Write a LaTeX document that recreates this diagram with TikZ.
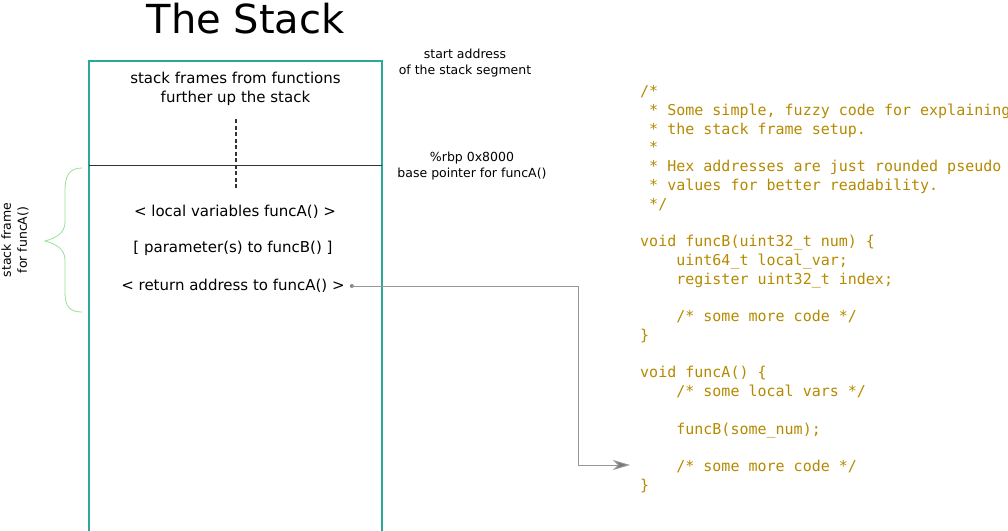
\documentclass[tikz,border=0pt]{standalone}
\usepackage{fontspec}
\setmainfont{DejaVu Sans}
\setmonofont{DejaVu Sans Mono}
\usetikzlibrary{arrows.meta,positioning}
\definecolor{stackcyan}{RGB}{42,168,156}
\definecolor{codeyellow}{RGB}{181,137,0}
\definecolor{bracegreen}{RGB}{150,225,150}
\definecolor{linkgray}{RGB}{150,150,150}
\tikzset{
    label/.style={font=\fontsize{15}{19}\selectfont, align=center, inner sep=0pt},
    note/.style={font=\fontsize{12.5}{16}\selectfont, align=center, inner sep=0pt},
    codeline/.style={font=\ttfamily\fontsize{15}{19}\selectfont, text=codeyellow, anchor=base west, inner sep=0pt},
    frame/.style={draw=stackcyan, line width=1.4pt},
    link/.style={draw=linkgray, line width=1pt, -{Stealth[length=17pt, width=10pt, inset=5pt, fill=linkgray!80!black]}}
}

\begin{document}
\begin{tikzpicture}[x=1pt, y=-1pt]
    \useasboundingbox (0,0) rectangle (1008,530);

    % the stack
    \node[anchor=base, font=\fontsize{40}{44}\selectfont, inner sep=0pt] (title) at (245.5,33) {The Stack};
    \draw[frame] (89,532) -- (89,61) -- (382,61) -- (382,532);
    \draw[black!80, line width=0.9pt] (89,165) -- (382,165);
    \draw[black!80, line width=1.4pt, dash pattern=on 4pt off 2.5pt] (236,119) -- (236,188);

    % Nodes
    \node[label] (upper) at (235.5,89) {stack frames from functions\\further up the stack};
    \node[label] (locals) at (235,212) {< local variables funcA() >};
    \node[label] (params) at (233,248) {[ parameter(s) to funcB() ]};
    \node[label] (retaddr) at (233,286) {< return address to funcA() >};
    \node[note] (startlbl) at (465,63) {start address\\of the stack segment};
    \node[note] (rbplbl) at (472,166) {\%rbp 0x8000\\base pointer for funcA()};
    \node[note, rotate=90] (framelbl) at (15,240) {stack frame\\for funcA()};

    % brace
    \draw[bracegreen, line width=0.8pt] (82,168) .. controls (70,168) and (65,175) .. (65,190)
        -- (65,222) .. controls (65,233) and (56,238) .. (45,241)
        .. controls (56,244) and (65,249) .. (65,260)
        -- (65,292) .. controls (65,307) and (70,312) .. (82,312);

    % code
    \foreach \i/\c/\ln in {
        1/0/{/*},
        2/1/{* Some simple, fuzzy code for explaining},
        3/1/{* the stack frame setup.},
        4/1/{*},
        5/1/{* Hex addresses are just rounded pseudo},
        6/1/{* values for better readability.},
        7/1/{*/},
        9/0/{void funcB(uint32\_t num) \{},
        10/4/{uint64\_t local\_var;},
        11/4/{register uint32\_t index;},
        13/4/{/* some more code */},
        14/0/{\}},
        16/0/{void funcA() \{},
        17/4/{/* some local vars */},
        19/4/{funcB(some\_num);},
        21/4/{/* some more code */},
        22/0/{\}}}
        \node[codeline] (code\i) at ({640+9.03*\c},{96.5+18.76*(\i-1)}) {\ln};

    % edges
    \coordinate (retdot) at ([xshift=7pt]retaddr.east);
    \coordinate (target) at (630,465);
    \fill[linkgray!90!black] (retdot) circle (2pt);
    \draw[link] (retdot) -- (578,286 |- retdot) -- (578,465) -- (target);
\end{tikzpicture}
\end{document}
